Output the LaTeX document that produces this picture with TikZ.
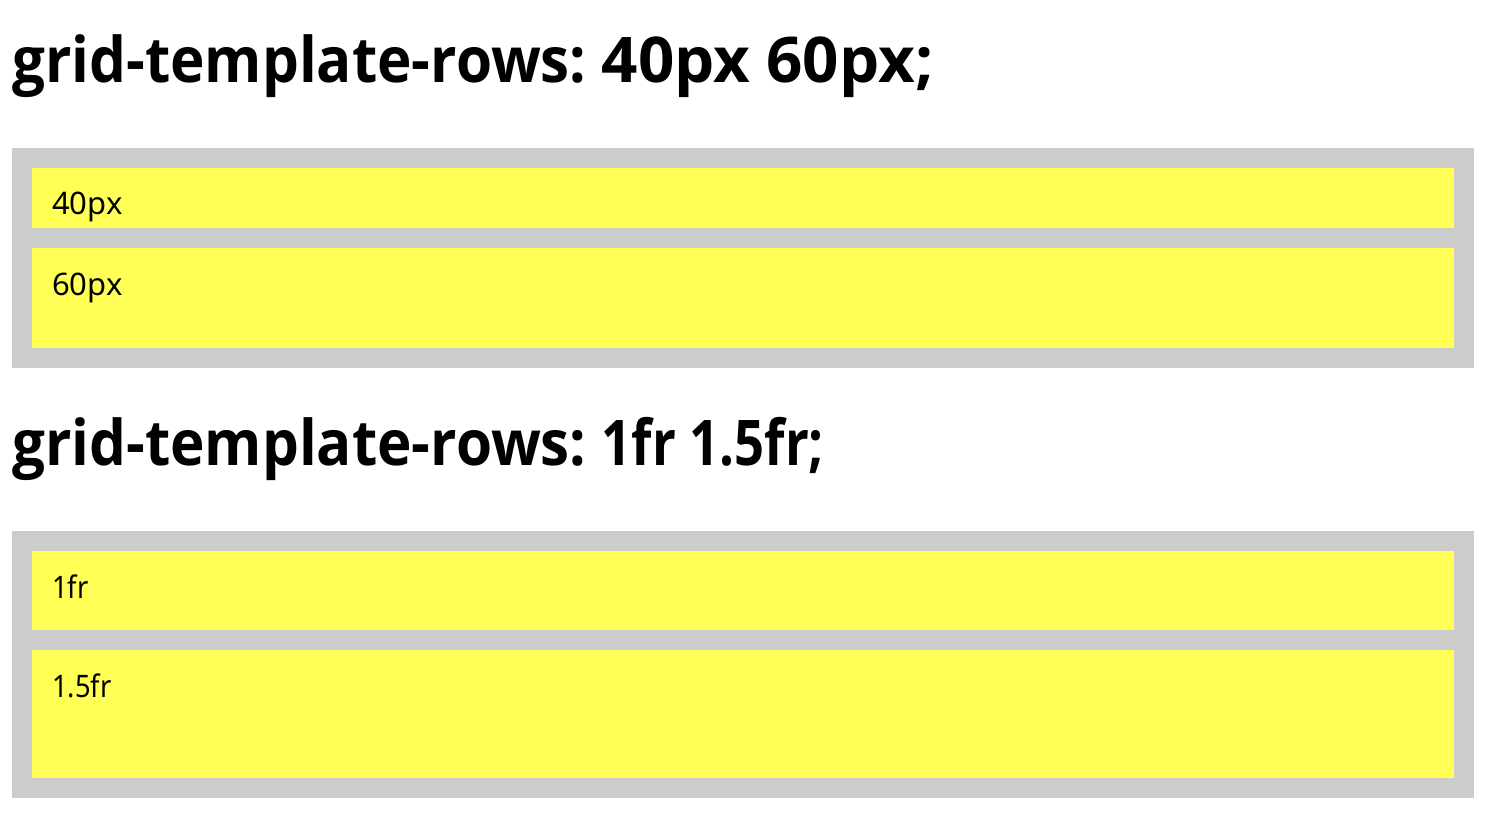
\documentclass[tikz,border=0pt]{standalone}
\usepackage{fontspec}
\setmainfont{Noto Sans}
\newfontfamily\titlefont{Open Sans}
\definecolor{boxgray}{HTML}{CCCCCC}
\definecolor{rowyellow}{HTML}{FFFF55}
\newcommand{\prefixpart}{\scalebox{0.926}[1]{grid-template-rows:\ }}
\tikzset{
  title/.style={anchor=base west,inner sep=0pt,font=\titlefont\bfseries\fontsize{63}{70}\selectfont},
  label/.style={anchor=base west,inner sep=0pt,font=\fontsize{31}{34}\selectfont},
  container/.style={fill=boxgray,draw=none},
  row/.style={fill=rowyellow,draw=none}
}
\begin{document}
\begin{tikzpicture}[x=1pt,y=-1pt]
\useasboundingbox[fill=white] (0,0) rectangle (1488,818);
% section 1
\node[title] (t1) at (12,83) {\prefixpart\scalebox{1.01}[1]{40px 60px;}};
\fill[container] (12,148) rectangle (1474,368);
\fill[row] (32,168) rectangle (1454,228);
\fill[row] (32,248) rectangle (1454,348);
\node[label] (a1) at (52,215) {40px};
\node[label] (a2) at (52,295) {60px};
% section 2
\node[title] (t2) at (12,465) {\prefixpart\scalebox{0.835}[1]{1fr 1.5fr;}};
\fill[container] (12,531) rectangle (1474,798);
\fill[row] (32,551) rectangle (1454,630);
\fill[row] (32,650) rectangle (1454,778);
\node[label] (b1) at (52,598) {\scalebox{0.88}[1]{1fr}};
\node[label] (b2) at (52,697) {\scalebox{0.88}[1]{1.5fr}};
\end{tikzpicture}
\end{document}
